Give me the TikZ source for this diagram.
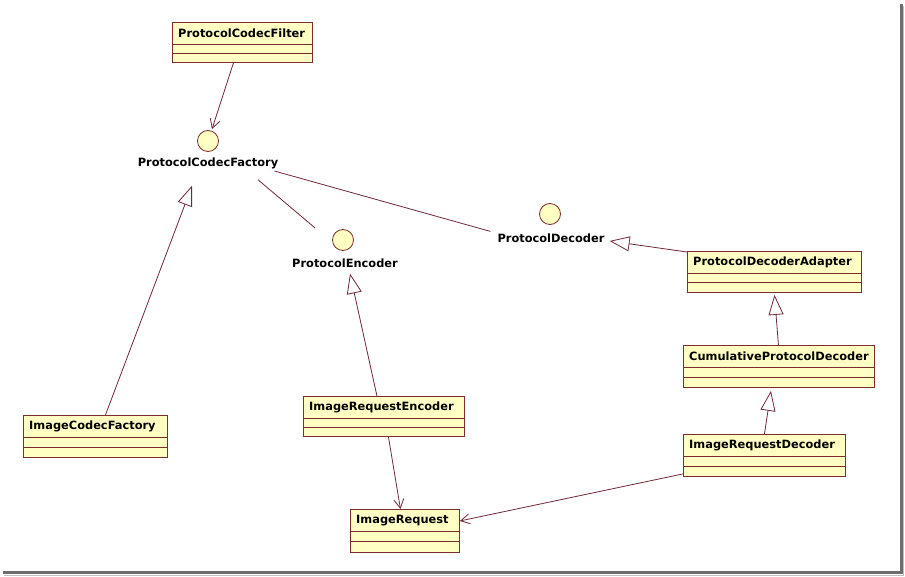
\documentclass[tikz,border=0pt]{standalone}
\usepackage{fontspec}
\setmainfont{DejaVu Sans}
\usetikzlibrary{arrows.meta,calc}
\definecolor{clsfill}{RGB}{255,255,196}
\definecolor{clsborder}{RGB}{125,45,45}
\definecolor{lnk}{RGB}{110,40,55}
\definecolor{shadowgray}{RGB}{110,110,110}
\tikzset{
  cls/.style={draw=clsborder, fill=clsfill, line width=0.9pt, inner sep=0pt},
  clsline/.style={draw=clsborder, line width=0.9pt},
  clslabel/.style={font=\bfseries\fontsize{11.4}{13}\selectfont, inner sep=0pt, anchor=west},
  iface/.style={circle, draw=clsborder, fill=clsfill, line width=0.8pt, minimum size=21pt, inner sep=0pt},
  ifacelabel/.style={font=\bfseries\fontsize{11.4}{13}\selectfont, inner sep=1pt},
  dep/.style={draw=lnk, line width=0.8pt, -{Straight Barb[length=9pt, width=10pt]}},
  real/.style={draw=lnk, line width=0.8pt, -{Triangle[open, length=20pt, width=15pt, fill=white]}},
  assoc/.style={draw=lnk, line width=0.8pt},
}
\newcommand\umlcls[6]{% name, x, y, width, height, label
  \node[cls, minimum width=#4pt, minimum height=#5pt, anchor=north west] (#1) at (#2,#3) {};
  \draw[clsline] ($(#1.north west)+(0,22)$) -- ($(#1.north east)+(0,22)$);
  \draw[clsline] ($(#1.north west)+(0,{22+(#5-22)/2})$) -- ($(#1.north east)+(0,{22+(#5-22)/2})$);
  \node[clslabel] at ($(#1.north west)+(6,11.5)$) {#6};
}
\begin{document}
\begin{tikzpicture}[x=1pt, y=-1pt]
\useasboundingbox (0,0) rectangle (905,577);
\fill[white] (0,0) rectangle (905,577);
% frame shadow
\draw[shadowgray, line width=2.5pt] (3,572.5) -- (901.5,572.5) -- (901.5,4);
\draw[black!25, line width=1pt] (4,575) -- (903.5,575) -- (903.5,6);

% classes
\umlcls{filter}{172}{22}{140}{40}{ProtocolCodecFilter}
\umlcls{icf}{23}{415}{144}{42}{ImageCodecFactory}
\umlcls{ire}{303}{396}{161}{40}{ImageRequestEncoder}
\umlcls{ir}{350}{509}{109}{43}{ImageRequest}
\umlcls{pda}{687}{251}{174}{41}{ProtocolDecoderAdapter}
\umlcls{cpd}{683}{345}{191}{42}{CumulativeProtocolDecoder}
\umlcls{ird}{683}{434}{162}{42}{ImageRequestDecoder}

% interfaces
\node[iface] (pcf) at (208,141) {};
\node[ifacelabel] (pcfl) at (208,163) {ProtocolCodecFactory};
\node[iface] (pe) at (343,240) {};
\node[ifacelabel] (pel) at (345,263) {ProtocolEncoder};
\node[iface] (pd) at (550,214) {};
\node[ifacelabel] (pdl) at (551,238) {ProtocolDecoder};

% connectors
\draw[dep] ($(filter.south)+(-9,0)$) -- ($(pcf.north)+(4,-1)$);
\draw[real] ($(icf.north)+(10,0)$) -- ($(pcfl.south)+(-16,16)$);
\draw[assoc] ($(pcfl.south)+(50,10)$) -- ($(pe.west)+(-17,-12)$);
\draw[assoc] ($(pcfl.east)+(-5,8)$) -- ($(pdl.north west)+(-6,-1)$);
\draw[real] ($(pda.north west)+(0,1)$) -- ($(pdl.east)+(4,3)$);
\draw[real] ($(ire.north)+(-7,0)$) -- ($(pel.south)+(5,5)$);
\draw[real] ($(cpd.north)+(-0.5,0)$) -- ($(pda.south)+(0,2)$);
\draw[real] ($(ird.north)+(0,0)$) -- ($(cpd.south)+(-8,3)$);
\draw[dep] ($(ire.south)+(4.5,0)$) -- ($(ir.north)+(-4.5,0)$);
\draw[dep] ($(ird.south west)+(0,-3)$) -- ($(ir.east)+(0,-10)$);
\end{tikzpicture}
\end{document}
